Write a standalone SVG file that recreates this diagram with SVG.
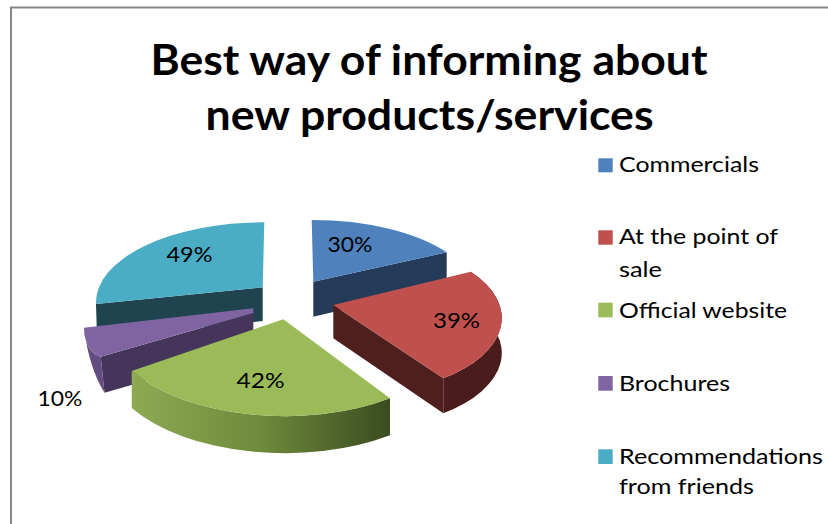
<svg xmlns="http://www.w3.org/2000/svg" width="828" height="524" viewBox="0 0 828 524">
  <defs>
    <linearGradient id="greenSide" x1="131" y1="0" x2="390" y2="0" gradientUnits="userSpaceOnUse">
      <stop offset="0" stop-color="#8DAB52"/>
      <stop offset="0.5" stop-color="#6E8A3D"/>
      <stop offset="1" stop-color="#3B4B1F"/>
    </linearGradient>
    <style>
      .t { font-family: Lato, "Liberation Sans", sans-serif; fill: #000; }
      .title { font-size: 42px; font-weight: bold; }
      .leg { font-size: 22px; }
      .pct { font-size: 21px; }
    </style>
  </defs>
  <rect x="0" y="0" width="828" height="524" fill="#fff"/>
  <rect x="11" y="7.5" width="830" height="530" fill="#fff" stroke="#878787" stroke-width="2"/>

  <g id="title" class="t title" text-anchor="middle">
    <text x="429" y="75" textLength="557" lengthAdjust="spacingAndGlyphs">Best way of informing about</text>
    <text x="429.5" y="130" textLength="448" lengthAdjust="spacingAndGlyphs">new products/services</text>
  </g>

  <g id="slice-commercials">
    <path d="M313.3,281.7 L446.7,252.3 L446.7,285 L313.3,316.7 Z" fill="#243B59"/>
    <path d="M311.7,220 A163,75 0 0,1 446.7,252.3 L313.3,281.7 Z" fill="#4F81BD"/>
  </g>

  <g id="slice-recommendations">
    <path d="M96,304 L262.7,287.3 L262.7,321 L97,338 Z" fill="#20444F"/>
    <path d="M262.7,287.3 L264.3,222.3 A168,80 0 0,0 96,304 Z" fill="#4BACC6"/>
  </g>

  <g id="slice-point-of-sale">
    <path d="M470.7,271.7 A145,75 0 0,1 443.3,378.3 L443.3,413.3 A145,75 0 0,0 470.7,306.7 Z" fill="#4B1C1C"/>
    <path d="M333.3,305 L443.3,378.3 L443.3,413.3 L333.3,338.3 Z" fill="#4F1F1E"/>
    <path d="M333.3,305 L470.7,271.7 A145,75 0 0,1 443.3,378.3 Z" fill="#C0504D"/>
  </g>

  <g id="slice-brochures">
    <path d="M100.7,356.7 L253.3,313 L253.3,350 L104.5,392.7 Z" fill="#45355A"/>
    <path d="M84,327.7 Q85,352 100.7,356.7 L104.5,392.7 Q89,368 84,327.7 Z" fill="#634C80"/>
    <path d="M84,327.7 L253.3,308.3 L253.3,313 L100.7,356.7 Q85,352 84,327.7 Z" fill="#8064A2"/>
  </g>

  <g id="slice-website">
    <path d="M131.7,371 A180,95 0 0,0 390,398.3 L390,435.3 A180,95 0 0,1 131.7,408 Z" fill="url(#greenSide)"/>
    <path d="M283.3,319.3 L390,398.3 A180,95 0 0,1 131.7,371 Z" fill="#9BBB59"/>
  </g>

  <g id="data-labels" class="t pct">
    <text x="327.5" y="251.7" textLength="45" lengthAdjust="spacingAndGlyphs">30%</text>
    <text x="433" y="328.3" textLength="47" lengthAdjust="spacingAndGlyphs">39%</text>
    <text x="236.5" y="388.3" textLength="48" lengthAdjust="spacingAndGlyphs">42%</text>
    <text x="166.5" y="261.7" textLength="46" lengthAdjust="spacingAndGlyphs">49%</text>
    <text x="37.5" y="406" textLength="45" lengthAdjust="spacingAndGlyphs">10%</text>
  </g>

  <g id="legend" class="t leg">
    <rect x="598.3" y="158.3" width="14.4" height="14" fill="#4F81BD"/>
    <text x="619" y="172.3" textLength="140" lengthAdjust="spacingAndGlyphs">Commercials</text>
    <rect x="598.3" y="230.3" width="14.4" height="14.4" fill="#C0504D"/>
    <text x="619" y="244.3" textLength="159" lengthAdjust="spacingAndGlyphs">At the point of</text>
    <text x="619" y="277.3" textLength="43" lengthAdjust="spacingAndGlyphs">sale</text>
    <rect x="598.3" y="302.7" width="14.4" height="14.6" fill="#9BBB59"/>
    <text x="619" y="317.7" textLength="168" lengthAdjust="spacingAndGlyphs">Official website</text>
    <rect x="598.3" y="376" width="14.4" height="14.7" fill="#8064A2"/>
    <text x="619" y="390.7" textLength="111" lengthAdjust="spacingAndGlyphs">Brochures</text>
    <rect x="598.3" y="449.3" width="14.4" height="14.7" fill="#4BACC6"/>
    <text x="619" y="464" textLength="204" lengthAdjust="spacingAndGlyphs">Recommendations</text>
    <text x="619" y="494.3" textLength="135" lengthAdjust="spacingAndGlyphs">from friends</text>
  </g>
</svg>
